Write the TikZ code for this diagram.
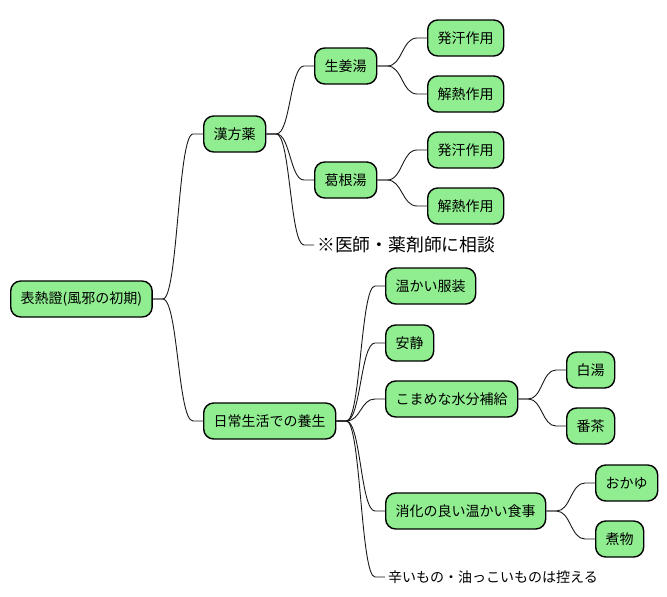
\documentclass[tikz,border=0pt]{standalone}
\usepackage{fontspec}
\setmainfont{Noto Sans CJK JP}
\usetikzlibrary{calc}
\definecolor{boxgreen}{HTML}{90EE90}
\definecolor{linec}{HTML}{181818}
\tikzset{
  box/.style={draw=black, line width=1.4pt, fill=boxgreen, rounded corners=10pt,
    inner xsep=10pt, inner ysep=0pt, minimum height=36pt, anchor=west,
    font=\fontsize{14}{16}\selectfont},
  plain/.style={inner sep=0pt, anchor=west},
  conn/.style={draw=linec, line width=0.9pt, to path={
    let \p1=(\tikztostart), \p2=(\tikztotarget), \n1={(\x1+\x2)/2} in
    (\p1) -- (\x1+10pt,\y1) .. controls (\n1,\y1) and (\n1,\y2) .. (\x2-10pt,\y2) -- (\p2)}}
}
\begin{document}
\begin{tikzpicture}[x=1pt,y=-1pt]
\useasboundingbox (0,0) rectangle (667,597);
\node[box] (root) at (10,299) {表熱證(風邪の初期)};
\node[box] (kampo) at (203,134) {漢方薬};
\node[box] (nichijo) at (203,421) {日常生活での養生};
\node[box] (shoga) at (314,66) {生姜湯};
\node[box] (kakkon) at (314,180) {葛根湯};
\node[box] (hakkan1) at (427,38) {発汗作用};
\node[box] (genetsu1) at (427,94) {解熱作用};
\node[box] (hakkan2) at (427,150) {発汗作用};
\node[box] (genetsu2) at (427,206) {解熱作用};
\coordinate (ishiend) at (314,245);
\node[plain, font=\fontsize{17.8}{20}\selectfont] (ishi) at (317,245) {※医師・薬剤師に相談};
\node[box] (fukuso) at (385,286) {温かい服装};
\node[box] (ansei) at (385,343) {安静};
\node[box] (suibun) at (385,399) {こまめな水分補給};
\node[box] (sayu) at (566,370) {白湯};
\node[box] (bancha) at (566,426) {番茶};
\node[box] (shokuji) at (385,511) {消化の良い温かい食事};
\node[box] (okayu) at (595,483) {おかゆ};
\node[box] (nimono) at (595,539) {煮物};
\coordinate (karaend) at (385,577);
\node[plain, font=\fontsize{14}{16}\selectfont] (kara) at (388,577) {辛いもの・油っこいものは控える};

\path (root.east) edge[conn] (kampo.west)
      (root.east) edge[conn] (nichijo.west)
      (kampo.east) edge[conn] (shoga.west)
      (kampo.east) edge[conn] (kakkon.west)
      (kampo.east) edge[conn] (ishiend)
      (shoga.east) edge[conn] (hakkan1.west)
      (shoga.east) edge[conn] (genetsu1.west)
      (kakkon.east) edge[conn] (hakkan2.west)
      (kakkon.east) edge[conn] (genetsu2.west)
      (nichijo.east) edge[conn] (fukuso.west)
      (nichijo.east) edge[conn] (ansei.west)
      (nichijo.east) edge[conn] (suibun.west)
      (nichijo.east) edge[conn] (shokuji.west)
      (nichijo.east) edge[conn] (karaend)
      (suibun.east) edge[conn] (sayu.west)
      (suibun.east) edge[conn] (bancha.west)
      (shokuji.east) edge[conn] (okayu.west)
      (shokuji.east) edge[conn] (nimono.west);
\end{tikzpicture}
\end{document}
